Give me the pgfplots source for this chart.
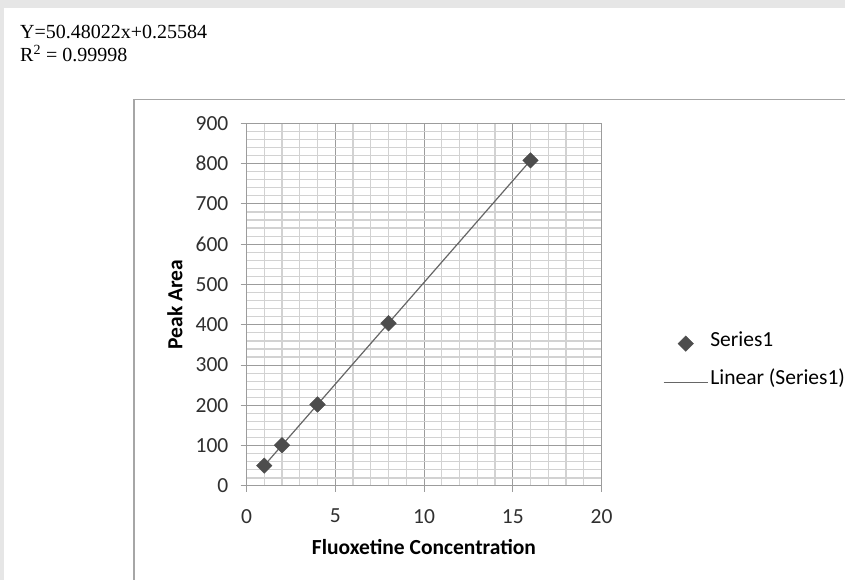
\documentclass[border=0pt]{standalone}
\usepackage{pgfplots}
\pgfplotsset{compat=1.18}
\usepackage{fontspec}
\setmainfont{Carlito}
\newfontfamily\timesfont{Liberation Serif}
\definecolor{bgray}{HTML}{E6E6E6}
\definecolor{boxgray}{HTML}{A6A6A6}
\definecolor{gridmaj}{HTML}{9C9C9C}
\definecolor{gridmin}{HTML}{D2D2D2}
\definecolor{txtgray}{HTML}{303030}
\definecolor{markgray}{HTML}{4D4D4D}
\definecolor{linegray}{HTML}{666666}
\pgfplotsset{
  markleg/.style={legend image code/.code={\draw[mark repeat=2, mark phase=2, ##1] plot coordinates {(0pt,0pt)(22pt,0pt)(44pt,0pt)};}},
  lineleg/.style={legend image code/.code={\draw[##1] (0pt,0pt) -- (44pt,0pt);}},
}
\begin{document}
\begin{tikzpicture}
\path[use as bounding box] (0,0) rectangle (845pt,580pt);
\fill[bgray] (0,0) rectangle (845pt,580pt);
\fill[white] (4pt,0) rectangle (845pt,572pt);
\draw[boxgray, line width=1.5pt] (134pt,-2pt) -- (134pt,480.5pt) -- (847pt,480.5pt);
\node[anchor=base west, inner sep=0pt, font=\timesfont\fontsize{20}{24}\selectfont] at (20pt,541.7pt) {Y=50.48022x+0.25584};
\node[anchor=base west, inner sep=0pt, font=\timesfont\fontsize{20}{24}\selectfont] at (20pt,518pt) {R\textsuperscript{2} = 0.99998};
\begin{axis}[
  at={(246.5pt,94pt)}, anchor=south west,
  scale only axis, width=355pt, height=362.7pt,
  xmin=0, xmax=20, ymin=0, ymax=900,
  xtick={0,5,10,15,20}, ytick={0,100,200,300,400,500,600,700,800,900},
  minor x tick num=4, minor y tick num=4,
  grid=both,
  major grid style={gridmaj, line width=1pt},
  minor grid style={gridmin, line width=1.2pt},
  axis line style={gridmaj, line width=1pt},
  tick pos=left, tick align=outside,
  major tick length=6pt, minor tick length=0pt,
  every tick/.style={gridmaj, line width=1pt},
  /pgf/number format/assume math mode=true,
  ticklabel style={font=\fontsize{21.5}{25}\selectfont, text=txtgray},
  yticklabel style={inner sep=0pt, xshift=-12pt},
  xticklabel style={inner sep=0pt, yshift=-17pt},
  xlabel={\textbf{Fluoxetine Concentration}},
  ylabel={\textbf{Peak Area}},
  label style={font=\fontsize{21.5}{25}\selectfont, text=black},
  xlabel style={at={(axis description cs:0.5,-0.168)}, anchor=center},
  ylabel style={at={(axis description cs:-0.2014,0.5)}, anchor=center},
  legend style={draw=none, fill=none, at={(axis description cs:1.173,0.343)}, anchor=west,
    inner sep=0pt, /tikz/row sep=26pt, /tikz/column sep=2pt,
    nodes={inner sep=0pt, anchor=west, text height=0.75em, text depth=0.25em},
    font=\fontsize{21.5}{25}\selectfont},
  legend cell align=left,
  clip=false,
]
\addplot[only marks, mark=square*, mark size=5.5pt, mark options={rotate=45, fill=markgray, draw=markgray}, markleg]
  coordinates {(1,50.6) (2,101.2) (4,202.3) (8,403.9) (16,807.9)};
\addlegendentry{Series1}
\addplot[linegray, line width=1.2pt, no marks, lineleg]
  coordinates {(1,50.736) (16,807.94)};
\addlegendentry{Linear (Series1)}
\end{axis}
\end{tikzpicture}
\end{document}
